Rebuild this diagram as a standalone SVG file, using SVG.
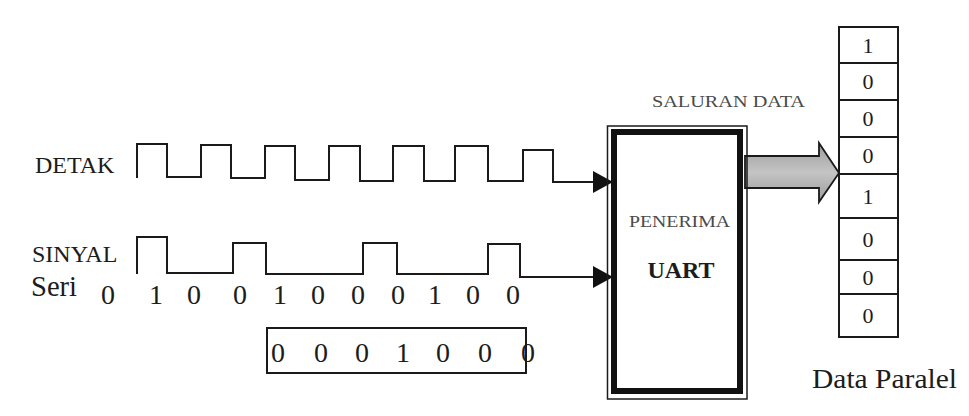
<svg xmlns="http://www.w3.org/2000/svg" width="969" height="416" viewBox="0 0 969 416">
  <style>
    .bg { fill: #ffffff; }
    .wave { fill: none; stroke: #1a1a1a; stroke-width: 2; stroke-linejoin: miter; }
    .lbl { font-family: "Liberation Serif", "Times New Roman", serif; fill: #1c1c1c; }
    .small { font-family: "Liberation Serif", "Times New Roman", serif; fill: #4a4a4a; font-size: 17px; }
    .bit { font-family: "Liberation Serif", "Times New Roman", serif; fill: #1c1c1c; font-size: 28px; text-anchor: middle; }
    .reg { font-family: "Liberation Serif", "Times New Roman", serif; fill: #1c1c1c; font-size: 22px; text-anchor: middle; }
    .box { fill: #ffffff; stroke: #1a1a1a; stroke-width: 2; }
    .cell { stroke: #1a1a1a; stroke-width: 2; }
  </style>
  <defs>
    <marker id="head" markerUnits="userSpaceOnUse" markerWidth="22" markerHeight="24" refX="20" refY="11" orient="auto">
      <path d="M0,0 L20,11 L0,22 z" fill="#111"/>
    </marker>
    <linearGradient id="busFill" x1="0" y1="0" x2="0" y2="1">
      <stop offset="0" stop-color="#9c9c9c"/>
      <stop offset="0.5" stop-color="#c4c4c4"/>
      <stop offset="1" stop-color="#9c9c9c"/>
    </linearGradient>
  </defs>

  <rect class="bg" x="0" y="0" width="969" height="416"/>

  <!-- signal labels -->
  <g id="labels">
    <text class="lbl" x="35" y="173" font-size="24">DETAK</text>
    <text class="lbl" x="32" y="262" font-size="24">SINYAL</text>
    <text class="lbl" x="31" y="296" font-size="30" textLength="46" lengthAdjust="spacingAndGlyphs">Seri</text>
  </g>

  <!-- clock and serial waveforms feeding the receiver -->
  <g id="connectors">
    <path id="clock-wave" class="wave" marker-end="url(#head)"
          d="M137,178 V144 H167 V177 H201 V145 H231 V178 H265 V146 H295 V180 H329 V146 H360 V181 H393 V146 H424 V181 H455 V146 H488 V181 H523 V150 H553 V182 H613"/>
    <path id="serial-wave" class="wave" marker-end="url(#head)"
          d="M137,274 V237 H167 V273 H233 V243 H266 V274 H363 V243 H397 V274 H488 V244 H520 V277 H613"/>
    <!-- parallel data bus -->
    <polygon id="data-bus" points="745,156 819,156 819,143 839,173 819,202 819,188 745,188"
             fill="url(#busFill)" stroke="#1a1a1a" stroke-width="1.8" stroke-linejoin="miter"/>
  </g>

  <!-- serial bit sequence -->
  <g id="serial-bits">
    <text class="bit" x="108" y="304">0</text>
    <text class="bit" x="156" y="304">1</text>
    <text class="bit" x="194" y="304">0</text>
    <text class="bit" x="240" y="304">0</text>
    <text class="bit" x="280" y="304">1</text>
    <text class="bit" x="318" y="304">0</text>
    <text class="bit" x="358" y="304">0</text>
    <text class="bit" x="398" y="304">0</text>
    <text class="bit" x="435" y="304">1</text>
    <text class="bit" x="473" y="304">0</text>
    <text class="bit" x="513" y="304">0</text>
  </g>

  <!-- framed data byte -->
  <g id="data-frame">
    <rect class="box" x="267" y="328" width="259" height="45"/>
    <text class="bit" x="278" y="362">0</text>
    <text class="bit" x="321" y="362">0</text>
    <text class="bit" x="362" y="362">0</text>
    <text class="bit" x="403" y="362">1</text>
    <text class="bit" x="443" y="362">0</text>
    <text class="bit" x="485" y="362">0</text>
    <text class="bit" x="528" y="362">0</text>
  </g>

  <!-- UART receiver block -->
  <g id="uart">
    <rect x="607.5" y="126" width="139.5" height="273" fill="none" stroke="#1a1a1a" stroke-width="1.5"/>
    <rect x="614" y="132" width="126" height="259" fill="#ffffff" stroke="#111" stroke-width="6"/>
    <text class="small" x="629" y="227" textLength="101" lengthAdjust="spacingAndGlyphs">PENERIMA</text>
    <text class="lbl" x="681" y="278" font-size="24" font-weight="bold" text-anchor="middle">UART</text>
  </g>

  <text id="bus-label" class="small" x="652" y="107" textLength="153" lengthAdjust="spacingAndGlyphs">SALURAN DATA</text>

  <!-- parallel output register -->
  <g id="register">
    <rect class="box" x="839" y="27" width="59" height="310"/>
    <line class="cell" x1="839" y1="63" x2="899" y2="63"/>
    <line class="cell" x1="839" y1="100" x2="899" y2="100"/>
    <line class="cell" x1="839" y1="137" x2="899" y2="137"/>
    <line class="cell" x1="839" y1="174" x2="899" y2="174"/>
    <line class="cell" x1="839" y1="218" x2="899" y2="218"/>
    <line class="cell" x1="839" y1="260" x2="899" y2="260"/>
    <line class="cell" x1="839" y1="294" x2="899" y2="294"/>
    <text class="reg" x="868" y="53">1</text>
    <text class="reg" x="868" y="89">0</text>
    <text class="reg" x="868" y="126">0</text>
    <text class="reg" x="868" y="163">0</text>
    <text class="reg" x="868" y="204">1</text>
    <text class="reg" x="868" y="247">0</text>
    <text class="reg" x="868" y="285">0</text>
    <text class="reg" x="868" y="323">0</text>
  </g>

  <text id="register-label" class="lbl" x="812" y="388" font-size="27" textLength="145" lengthAdjust="spacingAndGlyphs">Data Paralel</text>
</svg>
